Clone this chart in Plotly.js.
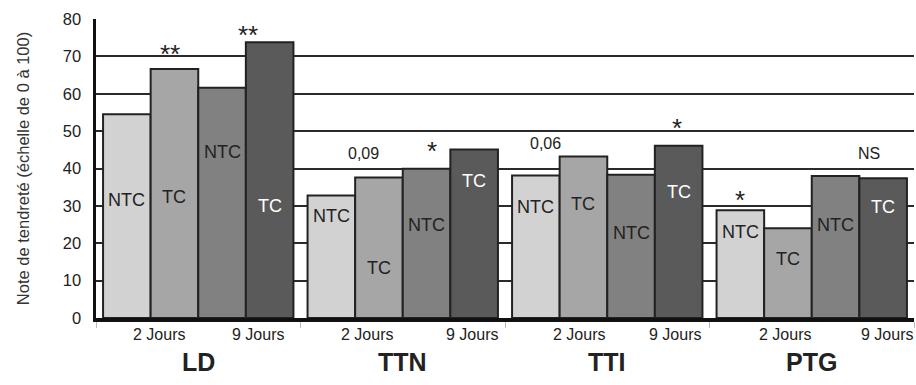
<!DOCTYPE html>
<html><head><meta charset="utf-8">
<script src="https://cdn.plot.ly/plotly-3.0.1.min.js"></script>
<style>html,body{margin:0;padding:0;background:#fff}</style>
</head><body><div id="chart" style="width:916px;height:385px"></div>
<script>
// ---- data ----
const groups = ['LD', 'TTN', 'TTI', 'PTG'];
const seriesNames = ['NTC', 'TC', 'NTC', 'TC'];
const ntc2Jours = [54.5, 32.8, 38.1, 28.8];
const tc2Jours  = [66.6, 37.6, 43.2, 24.0];
const ntc9Jours = [61.6, 39.9, 38.3, 38.0];
const tc9Jours  = [73.8, 45.1, 46.1, 37.4];
const dayLabels = ['2 Jours', '9 Jours'];
const signifLabels = ['**', '**', '0,09', '*', '0,06', '*', '*', 'NS'];
const yTickVals = [0, 10, 20, 30, 40, 50, 60, 70, 80];
const gridVals = [10, 20, 30, 40, 50, 60, 70];
const yTitle = 'Note de tendreté (échelle de 0 à 100)';

// ---- positions / styles (not data) ----
const barColors = ['#d2d2d2', '#a6a6a6', '#818181', '#5a5a5a'];
const labelColors = ['#222', '#222', '#222', '#fff'];
// vertical position (data units) of the NTC/TC label inside each bar, per series then per group
const labelY = [
  [31.6, 27.3, 29.8, 23.1],
  [32.4, 13.4, 30.6, 15.9],
  [44.5, 24.9, 22.8, 24.9],
  [30.0, 36.7, 33.8, 29.8]
];
const signifX = [-0.138, 0.243, 0.806, 1.143, 1.696, 2.341, 2.649, 3.28];
const signifY = [70.6, 75.7, 43.9, 44.7, 46.8, 50.8, 31.5, 44.1];
const day2X = [-0.192, -0.175, -0.138, -0.131];
const day9X = [0.292, 0.339, 0.330, 0.368];

const FONT = 'Liberation Sans, Arial, sans-serif';
const bargap = 0.069;
const series = [ntc2Jours, tc2Jours, ntc9Jours, tc9Jours];

const traces = series.map((vals, j) => ({
  type: 'bar',
  x: groups,
  y: vals,
  name: seriesNames[j],
  marker: {color: barColors[j], line: {color: '#222', width: 2}},
  hoverinfo: 'skip'
}));
traces.push({type: 'scatter', x: [], y: [], yaxis: 'y2', showlegend: false});

const annotations = [];
const barW = (1 - bargap) / 4;
series.forEach((vals, j) => {
  groups.forEach((g, i) => {
    annotations.push({
      x: i + (j - 1.5) * barW, y: labelY[j][i], xref: 'x', yref: 'y',
      text: seriesNames[j], showarrow: false,
      font: {family: FONT, size: 18, color: labelColors[j]},
      xanchor: 'center', yanchor: 'middle'
    });
  });
});
signifLabels.forEach((t, k) => {
  const star = t.indexOf('*') >= 0;
  annotations.push({
    x: signifX[k], y: signifY[k], xref: 'x', yref: 'y', text: t, showarrow: false,
    font: {family: FONT, size: star ? 26 : 16, color: '#222'},
    xanchor: 'center', yanchor: 'middle'
  });
});
groups.forEach((g, i) => {
  annotations.push({x: i + day2X[i], y: -0.055, xref: 'x', yref: 'paper', text: dayLabels[0],
    showarrow: false, font: {family: FONT, size: 16, color: '#222'}, xanchor: 'center', yanchor: 'middle'});
  annotations.push({x: i + day9X[i], y: -0.055, xref: 'x', yref: 'paper', text: dayLabels[1],
    showarrow: false, font: {family: FONT, size: 16, color: '#222'}, xanchor: 'center', yanchor: 'middle'});
  annotations.push({x: i, y: -0.147, xref: 'x', yref: 'paper', text: '<b>' + g + '</b>',
    showarrow: false, font: {family: FONT, size: 25, color: '#222'},
    xanchor: 'center', yanchor: 'middle'});
});

const layout = {
  width: 916, height: 385,
  margin: {l: 96, r: 2, t: 19, b: 67},
  paper_bgcolor: '#fff', plot_bgcolor: '#fff',
  showlegend: false,
  barmode: 'group', bargap: bargap, bargroupgap: 0,
  font: {family: FONT, color: '#222'},
  xaxis: {
    type: 'category', range: [-0.5, 3.5], showticklabels: false,
    showline: true, linecolor: '#111', linewidth: 3.5,
    ticks: 'outside', tickson: 'boundaries', ticklen: 6, tickcolor: '#bbb', tickwidth: 1,
    showgrid: false, zeroline: false, fixedrange: true
  },
  yaxis: {
    range: [0, 80], tickvals: yTickVals, showgrid: false, zeroline: false,
    showline: true, linecolor: '#111', linewidth: 3.5,
    ticks: 'outside', ticklen: 8, tickcolor: 'rgba(0,0,0,0)',
    tickfont: {family: FONT, size: 16.5, color: '#222'},
    title: {text: yTitle, font: {family: FONT, size: 16.5, color: '#333'}, standoff: 30},
    fixedrange: true
  },
  yaxis2: {
    overlaying: 'y', anchor: 'x', range: [0, 80], tickvals: gridVals,
    showticklabels: false, showgrid: true, gridcolor: '#2a2a2a', gridwidth: 2,
    zeroline: false, showline: false, ticks: '', fixedrange: true
  },
  annotations: annotations
};

Plotly.newPlot('chart', traces, layout, {displayModeBar: false, staticPlot: true});
</script>
</body></html>
